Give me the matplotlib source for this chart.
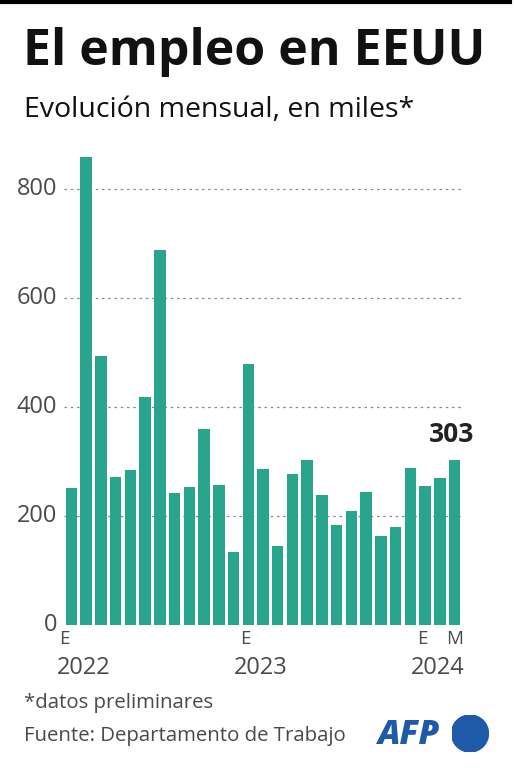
import matplotlib
matplotlib.use("Agg")
import matplotlib.pyplot as plt
from matplotlib.patches import Circle

months = list(range(27))
values = [251, 860, 493, 271, 285, 419, 689, 242, 254, 360, 257, 134,
          480, 286, 145, 277, 302, 239, 183, 209, 245, 164, 180, 289,
          255, 269, 303]
tick_vals = [0, 200, 400, 600, 800]
x_month_labels = {0: "E", 12: "E", 24: "E", 26: "M"}
year_labels = {0: "2022", 12: "2023", 24: "2024"}

FONT = "Open Sans"
BAR = "#2aa58d"
GREY = "#4a4a4a"

fig = plt.figure(figsize=(5.14, 7.68), dpi=100)
ax = fig.add_axes([64/514, 1-625/768, 398/514, 475/768])

ax.bar(months, values, width=0.78, color=BAR, zorder=2)
ax.set_xlim(-0.5, 26.5)
ax.set_ylim(0, 872)
for v in tick_vals[1:]:
    ax.axhline(v, color="#8a8a8a", lw=0.9, ls=(0, (2, 3)), zorder=1)
for s in ax.spines.values():
    s.set_visible(False)
ax.set_xticks([])
ax.set_yticks([])

for v in tick_vals:
    ax.text(-0.95, v, str(v), ha="right", va="center", fontsize=17,
            color=GREY, family=FONT)

x_offsets = {0: -0.45, 12: -0.2, 24: -0.2, 26: 0.0}
for i, lab in x_month_labels.items():
    ax.text(i + x_offsets[i], -10, lab, ha="center", va="top", fontsize=13.5,
            color=GREY, family=FONT)
for i, lab in year_labels.items():
    ax.text(i - 0.95, -56, lab, ha="left", va="top", fontsize=17,
            color=GREY, family=FONT)

ax.text(25.8, values[-1] + 22, str(values[-1]), ha="center", va="bottom",
        fontsize=19, fontweight="bold", color="#222222", family=FONT)

# top rule
fig.add_artist(plt.Line2D([0, 510/514], [1-1.5/768, 1-1.5/768], color="black", lw=3))

fig.text(23/514, 1-52/768, "El empleo en EEUU", fontsize=36, fontweight="bold",
         family=FONT, va="center", ha="left", color="#111111")
fig.text(24/514, 1-110/768, "Evolución mensual, en miles*", fontsize=20.5,
         family=FONT, va="center", ha="left", color="#111111")

fig.text(24/514, 1-703/768, "*datos preliminares", fontsize=14.7,
         family=FONT, va="center", ha="left", color=GREY)
fig.text(24/514, 1-736/768, "Fuente: Departamento de Trabajo", fontsize=14.7,
         family=FONT, va="center", ha="left", color=GREY)

AFP = "#1f5aa8"
fig.text(378/514, 1-735/768, "AFP", fontsize=24, fontweight="heavy", fontstyle="italic",
         family=FONT, va="center", ha="left", color=AFP)
circ_ax = fig.add_axes([451.5/514, 1-752/768, 37/514, 37/768])
circ_ax.set_xlim(-1, 1); circ_ax.set_ylim(-1, 1); circ_ax.set_aspect("equal")
circ_ax.add_patch(Circle((0, 0), 1, color=AFP))
circ_ax.axis("off")

fig.savefig("out.png", dpi=100)
